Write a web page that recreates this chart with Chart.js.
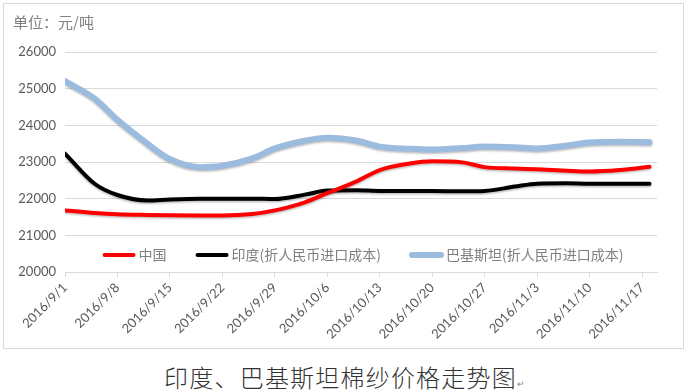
<!DOCTYPE html>
<html>
<head>
<meta charset="utf-8">
<script src="https://cdn.jsdelivr.net/npm/chart.js@4/dist/chart.umd.min.js"></script>
<style>
    body { margin: 0; background: #fff; width: 689px; height: 392px; position: relative; overflow: hidden; }
    #box { position: absolute; left: 3px; top: 3px; width: 679px; height: 344px; border: 1px solid #d9d9d9; }
    #box canvas { position: absolute; left: 0; top: 0; }
    #unit { position: absolute; left: 13px; top: 14px; font: 15px/15px "Noto Sans CJK SC", sans-serif; color: #808080; }
    #caption { position: absolute; left: 0; width: 689px; top: 364px; text-align: center; font: 300 24px/26px "Noto Sans CJK SC", sans-serif; letter-spacing: 1.2px; color: #333; }
    #caption span { font-size: 9px; color: #888; letter-spacing: 0; }
</style>
</head>
<body>
<div id="box"><canvas id="chart" width="679" height="344"></canvas></div>
<div id="unit">单位：元/吨</div>
<div id="caption">印度、巴基斯坦棉纱价格走势图<span>↵</span></div>

<script>
// week tick labels on the x axis
const weekLabels = ['2016/9/1', '2016/9/8', '2016/9/15', '2016/9/22', '2016/9/29', '2016/10/6',
    '2016/10/13', '2016/10/20', '2016/10/27', '2016/11/3', '2016/11/10', '2016/11/17'];

// days counted from 2016/9/1 where values were read
const dayIndex = [0, 4, 7, 11, 14, 18, 21, 25, 28, 32, 35, 39, 42, 46, 49, 53, 56, 60, 63, 67, 70, 74, 78];

// 中国
const chinaPrice = [21680, 21610, 21575, 21555, 21545, 21540, 21540, 21580, 21680, 21900, 22150, 22480,
    22780, 22960, 23020, 22990, 22860, 22820, 22800, 22760, 22740, 22780, 22870];

// 印度(折人民币进口成本)
const indiaPrice = [23230, 22400, 22100, 21950, 21980, 22000, 22000, 22000, 21990, 22110, 22220, 22230,
    22210, 22210, 22210, 22200, 22210, 22330, 22410, 22420, 22410, 22410, 22410];

// 巴基斯坦(折人民币进口成本)
const pakistanPrice = [25210, 24720, 24150, 23500, 23080, 22860, 22900, 23100, 23370, 23580, 23660, 23580,
    23420, 23360, 23340, 23380, 23420, 23400, 23370, 23450, 23530, 23550, 23540];

const seriesNames = ['中国', '印度(折人民币进口成本)', '巴基斯坦(折人民币进口成本)'];
const seriesColors = ['#ff0000', '#000000', '#9bbbdf'];
const seriesWidths = [4, 4, 6];

function toPoints(values) {
    return values.map((v, i) => ({ x: dayIndex[i], y: v }));
}

// soft shadow under the lines
const shadowPlugin = {
    id: 'shadow',
    beforeDatasetsDraw(chart) {
        const ctx = chart.ctx;
        ctx.save();
        ctx.shadowColor = 'rgba(0,0,0,0.25)';
        ctx.shadowBlur = 2;
        ctx.shadowOffsetY = 1.5;
    },
    afterDatasetsDraw(chart) {
        chart.ctx.restore();
    }
};

// legend drawn inside the plot area, like the original
const insideLegend = {
    id: 'insideLegend',
    afterDraw(chart) {
        const ctx = chart.ctx;
        const area = chart.chartArea;
        const sample = 33, gap = 3, itemGap = 29;
        ctx.save();
        ctx.font = '14px "Noto Sans CJK SC", sans-serif';
        ctx.textBaseline = 'middle';
        const items = chart.data.datasets.map(ds => ({
            label: ds.label, color: ds.borderColor, width: ds.borderWidth,
            textW: ctx.measureText(ds.label).width
        }));
        let total = 0;
        items.forEach((it, i) => { total += sample + gap + it.textW + (i < items.length - 1 ? itemGap : 0); });
        let x = (area.left + area.right) / 2 + 2 - total / 2;
        const y = 251;
        items.forEach(it => {
            ctx.strokeStyle = it.color;
            ctx.lineWidth = it.width;
            ctx.lineCap = 'round';
            ctx.beginPath();
            ctx.moveTo(x + 2, y);
            ctx.lineTo(x + sample - 2, y);
            ctx.stroke();
            ctx.fillStyle = '#808080';
            ctx.fillText(it.label, x + sample + gap, y);
            x += sample + gap + it.textW + itemGap;
        });
        ctx.restore();
    }
};

const datasets = [chinaPrice, indiaPrice, pakistanPrice].map((vals, i) => ({
    label: seriesNames[i],
    data: toPoints(vals),
    borderColor: seriesColors[i],
    backgroundColor: seriesColors[i],
    borderWidth: seriesWidths[i],
    borderCapStyle: 'round',
    pointRadius: 0,
    cubicInterpolationMode: 'monotone',
    fill: false
}));

new Chart(document.getElementById('chart'), {
    type: 'line',
    data: { datasets: datasets },
    options: {
        responsive: false,
        animation: false,
        layout: { padding: { top: 48, right: 26, left: 0, bottom: 0 } },
        plugins: {
            legend: { display: false },
            tooltip: { enabled: false }
        },
        scales: {
            x: {
                type: 'linear',
                min: 0,
                max: 79,
                afterFit(scale) { scale.height = 76; },
                grid: { drawOnChartArea: false, drawTicks: true, tickLength: 5, color: '#d9d9d9' },
                border: { color: '#d9d9d9' },
                ticks: {
                    stepSize: 7,
                    includeBounds: false,
                    autoSkip: false,
                    minRotation: 45,
                    maxRotation: 45,
                    padding: 3,
                    color: '#595959',
                    font: { family: 'Lato', size: 13 },
                    callback: v => (v % 7 === 0 ? weekLabels[v / 7] : '')
                }
            },
            y: {
                min: 20000,
                max: 26000,
                afterFit(scale) { scale.width = 61; },
                grid: { color: '#d9d9d9', drawTicks: false },
                border: { display: false },
                ticks: {
                    stepSize: 1000,
                    padding: 9,
                    color: '#595959',
                    font: { family: 'Lato', size: 13 },
                    callback: v => String(v)
                }
            }
        }
    },
    plugins: [shadowPlugin, insideLegend]
});
</script>
</body>
</html>
